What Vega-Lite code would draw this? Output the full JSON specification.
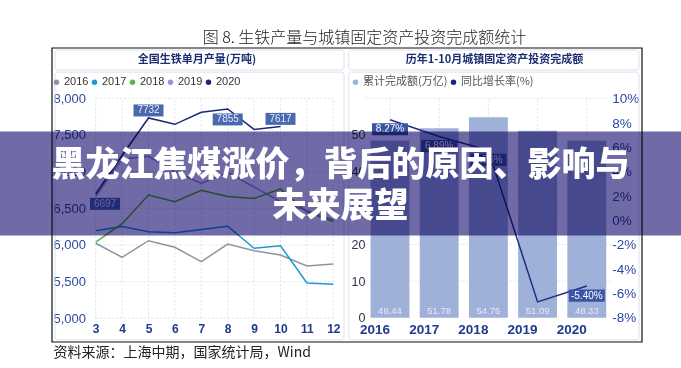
{
  "$schema": "https://vega.github.io/schema/vega-lite/v6.json",
  "width": 681,
  "height": 368,
  "autosize": "none",
  "padding": 0,
  "background": "#ffffff",
  "config": {"view": {"stroke": null}, "font": "Noto Sans CJK SC"},
  "datasets": {
    "iron": [
      {"year": "2016", "month": 3, "value": 6023}, {"year": "2016", "month": 4, "value": 5832}, {"year": "2016", "month": 5, "value": 6058}, {"year": "2016", "month": 6, "value": 5968}, {"year": "2016", "month": 7, "value": 5772}, {"year": "2016", "month": 8, "value": 6013}, {"year": "2016", "month": 9, "value": 5922}, {"year": "2016", "month": 10, "value": 5863}, {"year": "2016", "month": 11, "value": 5713}, {"year": "2016", "month": 12, "value": 5740},
      {"year": "2017", "month": 3, "value": 6195}, {"year": "2017", "month": 4, "value": 6250}, {"year": "2017", "month": 5, "value": 6180}, {"year": "2017", "month": 6, "value": 6168}, {"year": "2017", "month": 7, "value": 6210}, {"year": "2017", "month": 8, "value": 6255}, {"year": "2017", "month": 9, "value": 5955}, {"year": "2017", "month": 10, "value": 5990}, {"year": "2017", "month": 11, "value": 5481}, {"year": "2017", "month": 12, "value": 5464},
      {"year": "2018", "month": 3, "value": 6040}, {"year": "2018", "month": 4, "value": 6290}, {"year": "2018", "month": 5, "value": 6681}, {"year": "2018", "month": 6, "value": 6590}, {"year": "2018", "month": 7, "value": 6745}, {"year": "2018", "month": 8, "value": 6662}, {"year": "2018", "month": 9, "value": 6633}, {"year": "2018", "month": 10, "value": 6765}, {"year": "2018", "month": 11, "value": 6450}, {"year": "2018", "month": 12, "value": 6320},
      {"year": "2019", "month": 3, "value": 6665}, {"year": "2019", "month": 4, "value": 7170}, {"year": "2019", "month": 5, "value": 7210}, {"year": "2019", "month": 6, "value": 7000}, {"year": "2019", "month": 7, "value": 6840}, {"year": "2019", "month": 8, "value": 6990}, {"year": "2019", "month": 9, "value": 6790}, {"year": "2019", "month": 10, "value": 6590}, {"year": "2019", "month": 11, "value": 6470}, {"year": "2019", "month": 12, "value": 6340},
      {"year": "2020", "month": 3, "value": 6697}, {"year": "2020", "month": 4, "value": 7220}, {"year": "2020", "month": 5, "value": 7732}, {"year": "2020", "month": 6, "value": 7645}, {"year": "2020", "month": 7, "value": 7810}, {"year": "2020", "month": 8, "value": 7855}, {"year": "2020", "month": 9, "value": 7575}, {"year": "2020", "month": 10, "value": 7617}
    ],
    "ironGrid": [{"tick": 5000}, {"tick": 5500}, {"tick": 6000}, {"tick": 6500}, {"tick": 7000}, {"tick": 7500}, {"tick": 8000}],
    "invest": [
      {"year": "2016", "amount": 48.44, "growth": 8.27, "label": "8.27%"},
      {"year": "2017", "amount": 51.78, "growth": 6.89, "label": "6.89%"},
      {"year": "2018", "amount": 54.76, "growth": 5.76, "label": "5.76%"},
      {"year": "2019", "amount": 51.09, "growth": -6.70, "label": "-6.70%"},
      {"year": "2020", "amount": 48.33, "growth": -5.40, "label": "-5.40%"}
    ],
    "investGrid": [{"tick": 10}, {"tick": 20}, {"tick": 30}, {"tick": 40}, {"tick": 50}, {"tick": 60}]
  },
  "resolve": {
    "scale": {"x": "independent", "y": "independent", "fill": "independent", "stroke": "independent"},
    "axis": {"x": "independent", "y": "independent"},
    "legend": {"fill": "independent"}
  },
  "layer": [
    {
      "data": {"values": [{}]},
      "layer": [
        {
          "mark": {"type": "rect", "fill": "transparent", "stroke": "#111111", "strokeWidth": 1.2},
          "encoding": {
            "x": {"datum": 0, "type": "quantitative", "scale": {"domain": [0, 1], "range": [52, 642]}, "axis": null},
            "x2": {"datum": 1},
            "y": {"datum": 0, "type": "quantitative", "scale": {"domain": [0, 1], "range": [48, 342]}, "axis": null},
            "y2": {"datum": 1}
          }
        },
        {
          "mark": {"type": "rect", "fill": "transparent", "stroke": "#dbe1eb", "strokeWidth": 1, "cornerRadius": 3},
          "encoding": {"x": {"datum": 0.005, "type": "quantitative", "axis": null}, "x2": {"datum": 0.495}, "y": {"datum": 0.007, "type": "quantitative", "axis": null}, "y2": {"datum": 0.075}}
        },
        {
          "mark": {"type": "rect", "fill": "transparent", "stroke": "#dbe1eb", "strokeWidth": 1, "cornerRadius": 3},
          "encoding": {"x": {"datum": 0.005, "type": "quantitative", "axis": null}, "x2": {"datum": 0.495}, "y": {"datum": 0.082, "type": "quantitative", "axis": null}, "y2": {"datum": 0.993}}
        },
        {
          "mark": {"type": "rect", "fill": "transparent", "stroke": "#dbe1eb", "strokeWidth": 1, "cornerRadius": 3},
          "encoding": {"x": {"datum": 0.503, "type": "quantitative", "axis": null}, "x2": {"datum": 0.995}, "y": {"datum": 0.007, "type": "quantitative", "axis": null}, "y2": {"datum": 0.075}}
        },
        {
          "mark": {"type": "rect", "fill": "transparent", "stroke": "#dbe1eb", "strokeWidth": 1, "cornerRadius": 3},
          "encoding": {"x": {"datum": 0.503, "type": "quantitative", "axis": null}, "x2": {"datum": 0.995}, "y": {"datum": 0.082, "type": "quantitative", "axis": null}, "y2": {"datum": 0.993}}
        }
      ]
    },
    {
      "data": {"name": "iron"},
      "layer": [
        {
          "data": {"name": "ironGrid"},
          "mark": {"type": "rule", "color": "#dde2ec", "strokeDash": [2, 2], "strokeWidth": 1},
          "encoding": {
            "y": {"field": "tick", "type": "quantitative", "scale": {"domain": [5000, 8000], "range": [318.3, 98.3], "zero": false, "nice": false}},
            "x": {"datum": 3, "type": "quantitative", "scale": {"domain": [3, 12], "range": [95.7, 333.3], "zero": false, "nice": false}},
            "x2": {"datum": 12}
          }
        },
        {
          "transform": [{"filter": "datum.year == '2016'"}],
          "mark": {"type": "rule", "color": "#dde2ec", "strokeDash": [2, 2], "strokeWidth": 1},
          "encoding": {
            "x": {"field": "month", "type": "quantitative"},
            "y": {"datum": 5000, "type": "quantitative"},
            "y2": {"datum": 8000}
          }
        },
        {
          "mark": {"type": "line", "strokeWidth": 1.5},
          "encoding": {
            "x": {
              "field": "month", "type": "quantitative",
              "scale": {"domain": [3, 12], "range": [95.7, 333.3], "zero": false, "nice": false},
              "axis": {
                "orient": "bottom", "offset": -39.7, "values": [3, 4, 5, 6, 7, 8, 9, 10, 11, 12],
                "labelExpr": "format(datum.value, 'd')",
                "domain": false, "ticks": false, "tickSize": 0, "grid": false, "labelPadding": 0,
                "labelBaseline": "middle", "labelFont": "Liberation Sans", "labelFontSize": 12, "labelFontWeight": "bold",
                "labelColor": "#1d3a8c", "labelFlush": false, "labelOverlap": false,
                "title": "资料来源：上海中期，国家统计局，Wind", "titleX": 53, "titleY": 23.7, "titleAlign": "left",
                "titleBaseline": "middle", "titleFont": "Noto Sans CJK SC", "titleFontSize": 14, "titleFontWeight": "normal", "titleColor": "#222222"
              }
            },
            "y": {
              "field": "value", "type": "quantitative",
              "scale": {"domain": [5000, 8000], "range": [318.3, 98.3], "zero": false, "nice": false},
              "axis": {
                "orient": "left", "offset": -53, "values": [5000, 5500, 6000, 6500, 7000, 7500, 8000],
                "labelExpr": "format(datum.value, ',')",
                "domain": false, "ticks": false, "tickSize": 0, "grid": false, "labelPadding": 0,
                "labelAlign": "left", "labelBaseline": "middle", "labelFont": "Liberation Sans", "labelFontSize": 13,
                "labelColor": "#2c4a9c", "labelFlush": false, "labelOverlap": false,
                "title": "全国生铁单月产量(万吨)", "titleX": 143.5, "titleY": 59, "titleAngle": 0, "titleAlign": "center",
                "titleBaseline": "middle", "titleFont": "Noto Sans CJK SC", "titleFontSize": 11, "titleFontWeight": "bold", "titleColor": "#1c2e70"
              }
            },
            "stroke": {
              "field": "year", "type": "nominal",
              "scale": {"domain": ["2020", "2019", "2018", "2017", "2016"], "range": ["#1a2878", "#9d90dc", "#56b947", "#1e97d6", "#8f959e"]},
              "legend": null
            }
          }
        },
        {
          "transform": [{"filter": "datum.month < 0"}],
          "mark": {"type": "point", "filled": true, "opacity": 1},
          "encoding": {
            "x": {"field": "month", "type": "quantitative"},
            "y": {"field": "value", "type": "quantitative"},
            "fill": {
              "field": "year", "type": "nominal",
              "scale": {"domain": ["2016", "2017", "2018", "2019", "2020"], "range": ["#8f959e", "#1e97d6", "#56b947", "#9d90dc", "#1a2878"]},
              "legend": {
                "orient": "none", "legendX": 51, "legendY": 76.5, "direction": "horizontal", "title": null,
                "symbolType": "circle", "symbolSize": 30, "symbolStrokeWidth": 0, "labelFont": "Liberation Sans",
                "labelFontSize": 11, "labelColor": "#333333", "labelOffset": 2, "columnPadding": -5.5, "padding": 0
              }
            }
          }
        },
        {
          "transform": [{"filter": "datum.year == '2020' && (datum.month == 5 || datum.month == 10)"}],
          "layer": [
            {
              "mark": {"type": "point", "shape": "M-1,-0.4H1V0.4H-1Z", "size": 900, "filled": true, "fill": "#4a68b0", "opacity": 1, "strokeWidth": 0, "yOffset": -7.5},
              "encoding": {"x": {"field": "month", "type": "quantitative"}, "y": {"field": "value", "type": "quantitative"}}
            },
            {
              "mark": {"type": "text", "font": "Liberation Sans", "fontSize": 10, "fill": "#e4eaf7", "align": "center", "baseline": "middle", "yOffset": -7.5},
              "encoding": {"x": {"field": "month", "type": "quantitative"}, "y": {"field": "value", "type": "quantitative"}, "text": {"field": "value", "type": "quantitative", "format": "d"}}
            }
          ]
        },
        {
          "transform": [{"filter": "datum.year == '2020' && datum.month == 8"}],
          "layer": [
            {
              "mark": {"type": "point", "shape": "M-1,-0.4H1V0.4H-1Z", "size": 900, "filled": true, "fill": "#4a68b0", "opacity": 1, "strokeWidth": 0, "yOffset": 10.5},
              "encoding": {"x": {"field": "month", "type": "quantitative"}, "y": {"field": "value", "type": "quantitative"}}
            },
            {
              "mark": {"type": "text", "font": "Liberation Sans", "fontSize": 10, "fill": "#e4eaf7", "align": "center", "baseline": "middle", "yOffset": 10.5},
              "encoding": {"x": {"field": "month", "type": "quantitative"}, "y": {"field": "value", "type": "quantitative"}, "text": {"field": "value", "type": "quantitative", "format": "d"}}
            }
          ]
        },
        {
          "transform": [{"filter": "datum.year == '2020' && datum.month == 3"}],
          "layer": [
            {
              "mark": {"type": "point", "shape": "M-1,-0.4H1V0.4H-1Z", "size": 900, "filled": true, "fill": "#4a68b0", "opacity": 1, "strokeWidth": 0, "xOffset": 9.3, "yOffset": 10},
              "encoding": {"x": {"field": "month", "type": "quantitative"}, "y": {"field": "value", "type": "quantitative"}}
            },
            {
              "mark": {"type": "text", "font": "Liberation Sans", "fontSize": 10, "fill": "#e4eaf7", "align": "center", "baseline": "middle", "xOffset": 9.3, "yOffset": 10},
              "encoding": {"x": {"field": "month", "type": "quantitative"}, "y": {"field": "value", "type": "quantitative"}, "text": {"field": "value", "type": "quantitative", "format": "d"}}
            }
          ]
        }
      ]
    },
    {
      "data": {"name": "invest"},
      "resolve": {"scale": {"y": "independent"}, "axis": {"y": "independent"}},
      "layer": [
        {
          "layer": [
            {
              "data": {"name": "investGrid"},
              "mark": {"type": "rule", "color": "#dde2ec", "strokeDash": [2, 2], "strokeWidth": 1, "xOffset": -24.6, "x2Offset": 24.6},
              "encoding": {
                "y": {"field": "tick", "type": "quantitative", "scale": {"domain": [0, 60], "range": [317.7, 98.1], "zero": false, "nice": false}},
                "x": {"datum": "2016", "type": "ordinal", "scale": {"type": "band", "domain": ["2016", "2017", "2018", "2019", "2020"], "range": [365.4, 611.4], "paddingInner": 0.21, "paddingOuter": 0.105}},
                "x2": {"datum": "2020"}
              }
            },
            {
              "mark": {"type": "rule", "color": "#dde2ec", "strokeDash": [2, 2], "strokeWidth": 1},
              "encoding": {
                "x": {"field": "year", "type": "ordinal"},
                "y": {"datum": 0, "type": "quantitative"},
                "y2": {"datum": 60}
              }
            },
            {
              "mark": {"type": "bar"},
              "encoding": {
                "x": {
                  "field": "year", "type": "ordinal",
                  "scale": {"type": "band", "domain": ["2016", "2017", "2018", "2019", "2020"], "range": [365.4, 611.4], "paddingInner": 0.21, "paddingOuter": 0.105},
                  "axis": {
                    "orient": "bottom", "offset": -38.7, "domain": false, "ticks": false, "tickSize": 0, "grid": false,
                    "labelPadding": 0, "labelBaseline": "middle", "labelAngle": 0, "labelFont": "Liberation Sans",
                    "labelFontSize": 13.5, "labelFontWeight": "bold", "labelColor": "#1d3a8c",
                    "title": "图 8. 生铁产量与城镇固定资产投资完成额统计", "titleX": 364, "titleY": -292.3,
                    "titleAlign": "center", "titleBaseline": "middle", "titleFont": "Noto Sans CJK SC",
                    "titleFontSize": 16, "titleFontWeight": 300, "titleColor": "#222222"
                  }
                },
                "y": {
                  "field": "amount", "type": "quantitative",
                  "scale": {"domain": [0, 60], "range": [317.7, 98.1], "zero": false, "nice": false},
                  "axis": {
                    "orient": "left", "offset": -365, "values": [0, 10, 20, 30, 40, 50],
                    "labelExpr": "format(datum.value, 'd')",
                    "domain": false, "ticks": false, "tickSize": 0, "grid": false, "labelPadding": 0,
                    "labelAlign": "right", "labelBaseline": "middle", "labelFont": "Liberation Sans", "labelFontSize": 12.5,
                    "labelColor": "#2e3550", "labelFlush": false, "labelOverlap": false,
                    "title": "历年1-10月城镇固定资产投资完成额", "titleX": 129, "titleY": 59, "titleAngle": 0,
                    "titleAlign": "center", "titleBaseline": "middle", "titleFont": "Noto Sans CJK SC",
                    "titleFontSize": 11, "titleFontWeight": "bold", "titleColor": "#1c2e70"
                  }
                },
                "fill": {
                  "datum": "累计完成额(万亿)",
                  "scale": {"domain": ["累计完成额(万亿)", "同比增长率(%)"], "range": ["#9fb0d9", "#1a2878"]},
                  "legend": {
                    "orient": "none", "legendX": 350, "legendY": 76.5, "direction": "horizontal", "title": null,
                    "symbolType": "circle", "symbolSize": 30, "symbolStrokeWidth": 0, "labelFont": "Noto Sans CJK SC",
                    "labelFontSize": 11, "labelColor": "#555555", "labelOffset": 2, "columnPadding": -12, "padding": 0
                  }
                }
              }
            },
            {
              "mark": {"type": "text", "font": "Liberation Sans", "fontSize": 9.5, "fill": "#e8ecf6", "align": "center", "baseline": "middle", "yOffset": -6.7},
              "encoding": {
                "x": {"field": "year", "type": "ordinal"},
                "y": {"datum": 0, "type": "quantitative"},
                "text": {"field": "amount", "type": "quantitative", "format": ".2f"}
              }
            }
          ]
        },
        {
          "layer": [
            {
              "mark": {"type": "line", "stroke": "#1f2d86", "strokeWidth": 1.5},
              "encoding": {
                "x": {"field": "year", "type": "ordinal"},
                "y": {
                  "field": "growth", "type": "quantitative",
                  "scale": {"domain": [-8, 10], "range": [317.7, 98.7], "zero": false, "nice": false},
                  "axis": {
                    "orient": "right", "offset": -69.3, "values": [-8, -6, -4, -2, 0, 2, 4, 6, 8, 10],
                    "labelExpr": "datum.value + '%'", "domain": false, "ticks": false, "tickSize": 0, "grid": false,
                    "labelPadding": 0, "labelAlign": "left", "labelBaseline": "middle", "labelFont": "Liberation Sans",
                    "labelFontSize": 13.5, "labelColor": "#2b4aa6", "labelFlush": false, "labelOverlap": false, "title": null
                  }
                }
              }
            },
            {
              "transform": [{"filter": "datum.year != '2019'"}],
              "mark": {"type": "point", "shape": "M-1,-0.34H1V0.34H-1Z", "size": 1296, "filled": true, "fill": "#3b55a5", "opacity": 1, "strokeWidth": 0, "yOffset": 9.5},
              "encoding": {"x": {"field": "year", "type": "ordinal"}, "y": {"field": "growth", "type": "quantitative"}}
            },
            {
              "transform": [{"filter": "datum.year != '2019'"}],
              "mark": {"type": "text", "font": "Liberation Sans", "fontSize": 10, "fill": "#ffffff", "align": "center", "baseline": "middle", "yOffset": 9.5},
              "encoding": {"x": {"field": "year", "type": "ordinal"}, "y": {"field": "growth", "type": "quantitative"}, "text": {"field": "label", "type": "nominal"}}
            }
          ]
        }
      ]
    },
    {
      "data": {"values": [{}]},
      "layer": [
        {
          "mark": {"type": "rect", "fill": "#706aa6", "blend": "multiply"},
          "encoding": {
            "y": {"datum": 0.284, "type": "quantitative", "scale": {"domain": [0, 1], "range": [48, 342]}, "axis": null},
            "y2": {"datum": 0.638}
          }
        },
        {
          "mark": {"type": "text", "text": ["黑龙江焦煤涨价，背后的原因、影响与", "未来展望"], "font": "Noto Sans CJK SC", "fontSize": 34, "fontWeight": 900, "fill": "#ffffff", "align": "center", "baseline": "middle", "lineHeight": 41, "dy": -18.5},
          "encoding": {}
        }
      ]
    }
  ]
}
